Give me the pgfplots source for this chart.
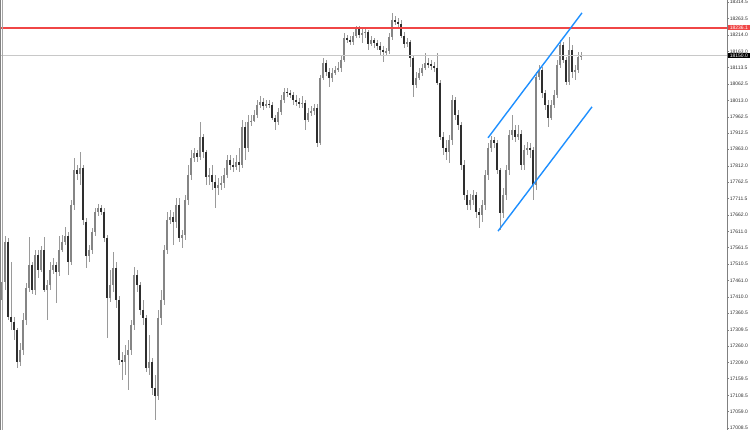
\documentclass[border=0pt]{standalone}
\usepackage{fontspec}
\setmainfont{Liberation Sans}
\usepackage{pgfplots}
\usepackage{pgfplotstable}
\pgfplotsset{compat=1.18}
\definecolor{wickc}{HTML}{9A9A9A}
\definecolor{bullc}{HTML}{858585}
\definecolor{bearc}{HTML}{2E2E2E}
\definecolor{chanc}{HTML}{1E8FFF}
\definecolor{reslinec}{RGB}{240,70,70}
\definecolor{curlinec}{HTML}{C8C8C8}
\pgfplotstableread{
x o h l c
2 17401 17468 17287 17456
5 17456 17597 17431 17579
8 17579 17591 17339 17349
11 17349 17517 17309 17333
14 17333 17349 17278 17309
17 17309 17315 17192 17211
20 17211 17269 17198 17248
23 17248 17361 17232 17339
26 17339 17453 17324 17438
29 17438 17594 17425 17508
32 17508 17517 17419 17431
35 17431 17554 17416 17539
38 17539 17554 17468 17493
41 17493 17566 17487 17554
44 17554 17594 17425 17431
47 17431 17462 17339 17447
50 17447 17517 17431 17493
53 17493 17530 17480 17508
56 17508 17517 17392 17487
59 17487 17597 17474 17554
62 17554 17600 17548 17579
65 17579 17625 17569 17597
68 17597 17609 17477 17517
71 17517 17707 17508 17692
74 17692 17836 17677 17799
77 17799 17815 17769 17787
80 17787 17855 17753 17806
83 17806 17815 17631 17646
86 17640 17652 17499 17536
89 17536 17569 17517 17554
92 17554 17622 17542 17609
95 17609 17683 17597 17671
98 17671 17695 17658 17683
101 17683 17692 17661 17671
104 17671 17683 17579 17591
107 17591 17600 17284 17407
110 17407 17493 17395 17447
113 17447 17548 17425 17499
116 17499 17517 17376 17401
119 17401 17413 17202 17217
122 17217 17241 17156 17211
125 17211 17263 17171 17232
128 17232 17278 17125 17248
131 17248 17339 17232 17324
134 17324 17502 17309 17477
137 17477 17493 17425 17447
140 17447 17456 17355 17370
143 17370 17401 17324 17346
146 17346 17355 17180 17192
149 17192 17294 17171 17211
152 17211 17223 17110 17131
155 17131 17171 17033 17106
158 17106 17370 17094 17346
161 17346 17431 17324 17401
164 17401 17569 17385 17554
167 17554 17671 17542 17646
170 17646 17677 17634 17655
173 17655 17671 17569 17640
176 17640 17714 17622 17692
179 17692 17714 17579 17591
182 17591 17615 17560 17600
185 17600 17723 17585 17707
188 17707 17815 17692 17784
191 17784 17861 17769 17836
194 17836 17867 17824 17852
197 17852 17861 17824 17839
200 17839 17947 17830 17901
203 17901 17910 17836 17855
206 17855 17861 17753 17778
209 17778 17806 17753 17784
212 17784 17815 17738 17763
215 17763 17784 17683 17744
218 17744 17775 17723 17753
221 17753 17781 17738 17760
224 17760 17806 17744 17784
227 17784 17845 17775 17830
230 17830 17845 17799 17815
233 17815 17836 17793 17809
236 17809 17845 17799 17824
239 17824 17867 17793 17815
242 17815 17953 17806 17931
245 17931 17947 17830 17867
248 17867 17968 17855 17947
251 17947 17968 17934 17950
254 17950 17983 17947 17968
257 17968 18014 17959 17999
260 17999 18026 17989 18008
263 18008 18020 17983 17996
266 17996 18014 17989 18002
269 18002 18014 17989 17999
272 17999 18008 17953 17959
275 17959 17968 17922 17947
278 17947 17989 17937 17977
281 17977 18029 17968 18014
284 18014 18051 18005 18039
287 18039 18051 18023 18035
290 18035 18045 18020 18029
293 18029 18039 17999 18014
296 18014 18029 17996 18008
299 18008 18020 17989 18002
302 18002 18026 17989 18005
305 18005 18014 17922 17953
308 17953 17989 17947 17974
311 17974 17996 17965 17980
314 17980 18002 17968 17989
317 17989 18002 17870 17882
320 17882 18091 17876 18081
323 18081 18143 18075 18127
326 18127 18137 18088 18100
329 18100 18112 18054 18081
332 18081 18112 18069 18097
335 18097 18118 18091 18106
338 18106 18131 18100 18112
341 18112 18152 18100 18137
344 18137 18219 18131 18204
347 18204 18213 18189 18198
350 18198 18210 18183 18192
353 18192 18223 18183 18210
356 18210 18241 18204 18235
359 18235 18241 18204 18213
362 18213 18235 18189 18219
365 18219 18235 18204 18223
368 18223 18229 18167 18186
371 18186 18210 18180 18198
374 18198 18204 18173 18189
377 18189 18198 18167 18180
380 18180 18192 18149 18167
383 18167 18180 18131 18161
386 18161 18173 18149 18164
389 18164 18219 18155 18207
392 18207 18281 18198 18259
395 18259 18272 18244 18253
398 18253 18265 18235 18247
401 18247 18259 18204 18210
404 18210 18223 18173 18186
407 18186 18204 18177 18192
410 18192 18198 18115 18143
413 18143 18152 18023 18060
416 18060 18100 18051 18081
419 18081 18112 18075 18097
422 18097 18124 18088 18112
425 18112 18158 18106 18127
428 18127 18143 18112 18124
431 18124 18137 18106 18118
434 18118 18131 18100 18112
437 18112 18158 18060 18066
440 18066 18075 17891 17901
443 17901 17916 17845 17867
446 17867 17891 17830 17855
449 17855 17907 17821 17891
452 17891 18029 17876 18014
455 18014 18023 17953 17968
458 17968 17983 17922 17937
461 17937 17947 17799 17815
464 17815 17830 17707 17723
467 17723 17738 17677 17692
470 17692 17726 17677 17707
473 17707 17738 17692 17723
476 17723 17732 17652 17671
479 17671 17683 17622 17661
482 17661 17707 17640 17692
485 17692 17799 17677 17784
488 17784 17882 17769 17867
491 17867 17904 17855 17891
494 17891 17901 17867 17882
497 17882 17891 17787 17799
500 17799 17806 17615 17668
503 17668 17744 17652 17723
506 17723 17815 17707 17799
509 17799 17922 17784 17907
512 17907 17968 17891 17922
515 17922 17937 17885 17901
518 17901 17937 17891 17910
521 17910 17922 17799 17815
524 17815 17876 17799 17861
527 17861 17885 17845 17867
530 17867 17882 17836 17861
533 17861 17870 17707 17753
536 17753 18100 17738 18085
539 18085 18121 18075 18106
542 18106 18115 18020 18035
545 18035 18045 17983 17999
548 17999 18014 17931 17959
551 17959 18014 17953 17999
554 17999 18045 17989 18029
557 18029 18137 18020 18121
560 18121 18198 18112 18183
563 18183 18192 18127 18137
566 18137 18146 18060 18069
569 18069 18207 18060 18167
572 18167 18183 18081 18100
575 18100 18121 18075 18106
578 18106 18161 18097 18146
581 18146 18161 18137 18150
}\candles
\begin{document}
\begin{tikzpicture}
\begin{axis}[
  scale only axis, width=727pt, height=430pt,
  xmin=0, xmax=727, ymin=17002.2, ymax=18320.6,
  axis x line=none, axis y line*=right,
  y axis line style={-, draw=gray, line width=0.8pt},
  ytick={18314.5,18263.5,18214.0,18163.0,18113.5,18062.5,18013.0,17962.5,17912.5,17863.0,17812.0,17762.5,17711.5,17662.0,17611.0,17561.5,17510.5,17461.0,17410.0,17360.5,17309.5,17260.0,17209.0,17159.5,17108.5,17059.0,17008.5},
  yticklabels={18314.5,18263.5,18214.0,18163.0,18113.5,18062.5,18013.0,17962.5,17912.5,17863.0,17812.0,17762.5,17711.5,17662.0,17611.0,17561.5,17510.5,17461.0,17410.0,17360.5,17309.5,17260.0,17209.0,17159.5,17108.5,17059.0,17008.5},
  yticklabel style={font=\fontsize{5}{6}\selectfont, text=black!80, inner sep=0.6pt, anchor=west},
  tick align=outside, major tick length=2pt,
  ytick style={draw=gray, line width=0.5pt},
  clip=false,
]
% wicks
\addplot[mark=none, draw=none, forget plot,
  error bars/.cd, y dir=both, y explicit, error mark=none,
  error bar style={draw=wickc, line width=0.8pt}]
  table[x=x, y expr={(\thisrow{h}+\thisrow{l})/2}, y error expr={(\thisrow{h}-\thisrow{l})/2}] {\candles};
% bull bodies
\addplot[mark=none, draw=none, forget plot,
  error bars/.cd, y dir=both, y explicit, error mark=none,
  error bar style={draw=bullc, line width=2pt}]
  table[x=x, y expr={(\thisrow{o}+\thisrow{c})/2}, y error expr={abs(\thisrow{c}-\thisrow{o})/2}] {\candles};
% bear bodies
\addplot[mark=none, draw=none, forget plot,
  restrict expr to domain={\thisrow{o}-\thisrow{c}}{0.5:10000},
  error bars/.cd, y dir=both, y explicit, error mark=none,
  error bar style={draw=bearc, line width=2pt}]
  table[x=x, y expr={(\thisrow{o}+\thisrow{c})/2}, y error expr={abs(\thisrow{c}-\thisrow{o})/2}] {\candles};
% levels
\addplot[draw=reslinec, line width=1.9pt, mark=none, forget plot] coordinates {(0,18236.1) (727,18236.1)};
\addplot[draw=curlinec, line width=0.8pt, mark=none, forget plot] coordinates {(0,18150) (727,18150)};
% channel
\addplot[color=chanc, line width=1.4pt, mark=none, forget plot] coordinates {(488,17898) (582,18281)};
\addplot[color=chanc, line width=1.4pt, mark=none, forget plot] coordinates {(498,17612) (592,17993)};
% left border
\draw[gray, line width=0.6pt] (axis cs:0.7,17002.2) -- (axis cs:0.7,18320.6);
\draw[gray!70, line width=0.6pt] (axis cs:2.4,17002.2) -- (axis cs:2.4,18320.6);
% price labels
\node[anchor=west, fill=reslinec, text=white, font=\fontsize{5}{6}\selectfont, inner sep=0.8pt, minimum width=22pt] at (axis cs:727.6,18236.1) {18236.1};
\node[anchor=west, fill=black, text=white, font=\fontsize{5}{6}\selectfont, inner sep=0.8pt, minimum width=22pt] at (axis cs:727.6,18150) {18150.0};
\end{axis}
\pgfresetboundingbox
\path (0,0) rectangle (750pt,430pt);
\end{tikzpicture}
\end{document}
